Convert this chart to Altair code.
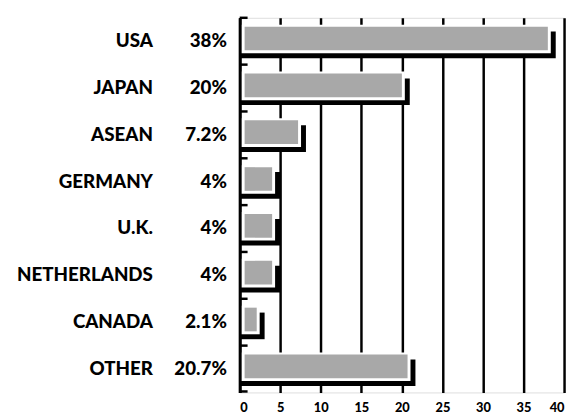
import altair as alt
import pandas as pd

countries = ["USA", "JAPAN", "ASEAN", "GERMANY", "U.K.", "NETHERLANDS", "CANADA", "OTHER"]
shares = [38, 20, 7.2, 4, 4, 4, 2.1, 20.7]
share_labels = ["38%", "20%", "7.2%", "4%", "4%", "4%", "2.1%", "20.7%"]
x_ticks = [0, 5, 10, 15, 20, 25, 30, 35, 40]

df = pd.DataFrame({"country": countries, "share": shares, "label": share_labels,
                   "start": [0] * len(countries)})

W, H = 329, 380
FONT = "Lato"

yscale = alt.Scale(paddingInner=0, paddingOuter=0)
y_enc = alt.Y("country:N", sort=countries, scale=yscale,
              axis=alt.Axis(labels=False, ticks=False, title=None, domain=True,
                            domainColor="black", domainWidth=3, zindex=1, grid=False))
xsc = alt.Scale(domain=[0, 40], nice=False, zero=True)
xaxis = alt.Axis(values=x_ticks, grid=True, gridColor="black", gridWidth=2.5,
                 gridOpacity=1, domain=False, ticks=False, labelPadding=9,
                 labelFont=FONT, labelFontWeight=900, labelFontSize=13,
                 labelColor="black", title=None, labelFlush=True, zindex=0)

base = alt.Chart(df)

shadow = base.mark_bar(color="black", height=27, yOffset=3.75, x2Offset=8).encode(
    x=alt.X("start:Q", scale=xsc, axis=xaxis), x2="share:Q", y=y_enc)
white = base.mark_bar(color="white", height=29, yOffset=-2.25, x2Offset=3).encode(
    x=alt.X("start:Q"), x2="share:Q", y=y_enc)
fill = base.mark_bar(color="#a8a8a8", height=24, yOffset=-2.75, xOffset=5).encode(
    x=alt.X("start:Q"), x2="share:Q", y=y_enc)

ticks = base.mark_rule(color="black", strokeWidth=2.5).encode(
    x=alt.value(0), x2=alt.value(8),
    y=alt.Y("country:N", sort=countries, bandPosition=0, scale=yscale))
bottom_tick = alt.Chart(pd.DataFrame({"t": [0]})).mark_rule(color="black", strokeWidth=2.5).encode(
    x=alt.value(0), x2=alt.value(8), y=alt.value(H - 1))

names = base.mark_text(align="right", baseline="middle", font=FONT, fontWeight=900,
                       fontSize=19, color="black").encode(
    x=alt.value(-88), y=y_enc, text="country:N")
pcts = base.mark_text(align="right", baseline="middle", font=FONT, fontWeight=900,
                      fontSize=19, color="black").encode(
    x=alt.value(-13), y=y_enc, text="label:N")

chart = alt.layer(shadow, white, fill, ticks, bottom_tick, names, pcts).properties(
    width=W, height=H,
    autosize=alt.AutoSizeParams(type="none"),
    padding={"left": 235, "top": 7, "right": 4, "bottom": 25},
).configure_view(stroke=None).configure(background="white")

chart.save("out.html", embed_options={"renderer": "svg", "actions": False})
